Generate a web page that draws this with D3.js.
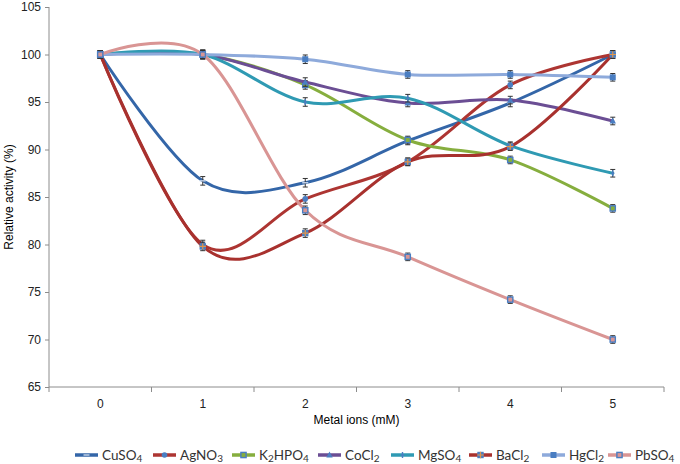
<!DOCTYPE html>
<html lang="en">
<head>
<meta charset="UTF-8">
<title>Relative activity vs metal ions</title>
<script src="https://d3js.org/d3.v7.min.js"></script>
<style>
    body { margin: 0; background: #fff; }
    .axis text { font-family: "Liberation Sans", Arial, sans-serif; font-size: 12px; fill: #222; }
    .axis path, .axis line { stroke: #8c8c8c; }
    .legend text { font-family: Lato, "Open Sans", sans-serif; font-size: 13.5px; fill: #333; }
</style>
</head>
<body>
<svg width="680" height="464"></svg>
<script>
    // x categories (mM)
    const doses = ["0", "1", "2", "3", "4", "5"];
    const yTicks = [65, 70, 75, 80, 85, 90, 95, 100, 105];

    // series values
    const cuso4 = [100, 86.7, 86.5, 90.9, 94.9, 100];
    const agno3 = [100, 80.0, 84.8, 88.7, 96.8, 100];
    const k2hpo4 = [100, 100, 96.8, 91.0, 88.9, 83.8];
    const cocl2 = [100, 100, 97.1, 94.9, 95.2, 93.0];
    const mgso4 = [100, 100, 95.0, 95.4, 90.4, 87.5];
    const bacl2 = [100, 79.8, 81.2, 88.7, 90.3, 100];
    const hgcl2 = [100, 100, 99.5, 97.9, 97.9, 97.6];
    const pbso4 = [100, 100, 83.6, 78.7, 74.2, 70.0];

    // error bar half height, same in every series
    const errs = [0.4, 0.45, 0.45, 0.4, 0.4, 0.4];

    const series = [
        {name: ["CuSO", "4"], values: cuso4, color: "#3466a8", marker: "dash"},
        {name: ["AgNO", "3"], values: agno3, color: "#ad3532", marker: "circle"},
        {name: ["K", "2", "HPO", "4"], values: k2hpo4, color: "#86ae3e", marker: "squareOpen"},
        {name: ["CoCl", "2"], values: cocl2, color: "#6b4e94", marker: "triangle"},
        {name: ["MgSO", "4"], values: mgso4, color: "#2f9ab3", marker: "plus"},
        {name: ["BaCl", "2"], values: bacl2, color: "#a8312e", marker: "squarePlus"},
        {name: ["HgCl", "2"], values: hgcl2, color: "#8eaadb", marker: "square"},
        {name: ["PbSO", "4"], values: pbso4, color: "#d99594", marker: "squareOpen"}
    ];

    const svg = d3.select("svg");
    const margin = {left: 49, right: 16, top: 7, bottom: 77};
    const width = 680 - margin.left - margin.right;
    const height = 464 - margin.top - margin.bottom;

    const g = svg.append("g").attr("transform", `translate(${margin.left},${margin.top})`);

    const x = d3.scaleBand().domain(doses).range([0, width]);
    const y = d3.scaleLinear().domain([65, 105]).range([height, 0]);
    const cx = d => x(d) + x.bandwidth() / 2;

    // y axis
    const yAxis = g.append("g").attr("class", "axis")
        .call(d3.axisLeft(y).tickValues(yTicks).tickSize(4).tickPadding(4));
    yAxis.select(".domain").attr("d", `M0,${height}V0`);

    // x axis with ticks between categories
    const xAxis = g.append("g").attr("class", "axis")
        .attr("transform", `translate(0,${height})`)
        .call(d3.axisBottom(x).tickSize(0).tickPadding(12));
    xAxis.select(".domain").attr("d", `M0,0H${width}`);
    xAxis.selectAll(".sep")
        .data(d3.range(doses.length + 1))
        .enter().append("line")
        .attr("x1", i => i * x.bandwidth()).attr("x2", i => i * x.bandwidth())
        .attr("y1", 0).attr("y2", 5)
        .attr("stroke", "#8c8c8c");

    // axis titles
    svg.append("text")
        .attr("x", margin.left + width / 2).attr("y", 424)
        .attr("text-anchor", "middle")
        .style("font-family", "Liberation Sans, Arial, sans-serif").style("font-size", "12px")
        .text("Metal ions (mM)");
    svg.append("text")
        .attr("transform", `translate(13,${margin.top + height / 2}) rotate(-90)`)
        .attr("text-anchor", "middle")
        .style("font-family", "Liberation Sans, Arial, sans-serif").style("font-size", "12px")
        .text("Relative activity (%)");

    const line = d3.line()
        .x((v, i) => cx(doses[i]))
        .y(v => y(v))
        .curve(d3.curveCardinal.tension(0));

    function drawMarker(sel, type, color) {
        const blue = "#4a7ec2";
        if (type === "circle") {
            sel.append("circle").attr("r", 2.8).attr("fill", blue);
        } else if (type === "square") {
            sel.append("rect").attr("x", -3).attr("y", -3).attr("width", 6).attr("height", 6).attr("fill", blue);
        } else if (type === "squareOpen") {
            sel.append("rect").attr("x", -2.6).attr("y", -2.6).attr("width", 5.2).attr("height", 5.2)
                .attr("fill", color).attr("stroke", blue).attr("stroke-width", 1.4);
        } else if (type === "squarePlus") {
            sel.append("rect").attr("x", -3.2).attr("y", -3.2).attr("width", 6.4).attr("height", 6.4).attr("fill", blue);
            sel.append("path").attr("d", "M-3.2,0H3.2M0,-3.2V3.2").attr("stroke", "#e0944a").attr("stroke-width", 1.2);
        } else if (type === "triangle") {
            sel.append("path").attr("d", "M0,-3.4L3.2,2.6H-3.2Z").attr("fill", blue);
        } else if (type === "plus") {
            sel.append("path").attr("d", "M-1.5,0H1.5M0,-3V3").attr("stroke", blue).attr("stroke-width", 1.4);
        } else {
            sel.append("path").attr("d", "M-3,0H3").attr("stroke", "#c9d6ea").attr("stroke-width", 1.4);
        }
    }

    series.forEach(s => {
        const sg = g.append("g");
        sg.append("path")
            .attr("d", line(s.values))
            .attr("fill", "none")
            .attr("stroke", s.color)
            .attr("stroke-width", 3)
            .attr("stroke-linecap", "round");

        const pts = sg.selectAll(".pt")
            .data(s.values)
            .enter().append("g")
            .attr("transform", (v, i) => `translate(${cx(doses[i])},${y(v)})`);

        // error bars
        pts.append("path")
            .attr("d", (v, i) => {
                const h = y(v - errs[i]) - y(v);
                return `M0,${-h}V${h}M-2.5,${-h}H2.5M-2.5,${h}H2.5`;
            })
            .attr("stroke", "#333")
            .attr("stroke-width", 1)
            .attr("fill", "none");

        pts.each(function() { drawMarker(d3.select(this), s.marker, s.color); });
    });

    // legend
    const legendX = [75, 153, 232, 318, 391, 469, 542, 608];
    const legend = svg.append("g").attr("class", "legend");
    series.forEach((s, i) => {
        const lg = legend.append("g").attr("transform", `translate(${legendX[i]},455)`);
        lg.append("line").attr("x1", 0).attr("x2", 23).attr("y1", 0).attr("y2", 0)
            .attr("stroke", s.color).attr("stroke-width", 3.5);
        const m = lg.append("g").attr("transform", "translate(11.5,0)");
        drawMarker(m, s.marker, s.color);
        const t = lg.append("text").attr("x", 27).attr("y", 5);
        s.name.forEach((part, k) => {
            const sub = k % 2 === 1;
            t.append("tspan")
                .style("font-size", sub ? "10px" : null)
                .attr("dy", sub ? 1.5 : (k > 0 ? -1.5 : 0))
                .text(part);
        });
    });
</script>
</body>
</html>
